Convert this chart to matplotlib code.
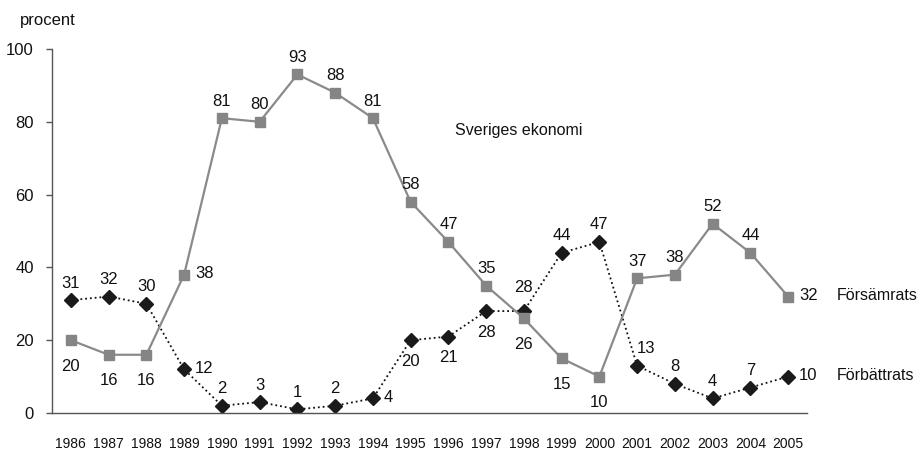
import matplotlib
matplotlib.use("Agg")
import matplotlib.pyplot as plt

plt.rcParams['font.family'] = ['Liberation Sans', 'DejaVu Sans']

years = list(range(1986, 2006))
forsamrats = [20, 16, 16, 38, 81, 80, 93, 88, 81, 58, 47, 35, 26, 15, 10, 37, 38, 52, 44, 32]
forbattrats = [31, 32, 30, 12, 2, 3, 1, 2, 4, 20, 21, 28, 28, 44, 47, 13, 8, 4, 7, 10]
# label placement: 'a' above, 'b' below, 'r' right, 'ar' above-right, 'A' high above
pos_fors = ['b', 'b', 'b', 'r', 'a', 'a', 'a', 'a', 'a', 'a', 'a', 'a', 'b', 'b', 'b', 'a', 'a', 'a', 'a', 'r']
pos_forb = ['a', 'a', 'a', 'r', 'a', 'a', 'a', 'a', 'r', 'b', 'b', 'b', 'A', 'a', 'a', 'ar', 'a', 'a', 'a', 'r']
yticks = [0, 20, 40, 60, 80, 100]

fig = plt.figure(figsize=(9.23, 4.5), dpi=100)
ax = fig.add_axes([52/923, 1-413/450, (807-52)/923, (413-49)/450])

ax.plot(years, forbattrats, color='#111111', linestyle=':', linewidth=1.3,
        marker='D', markersize=7.5, markerfacecolor='#1a1a1a', markeredgecolor='#1a1a1a', zorder=2)
ax.plot(years, forsamrats, color='#8a8a8a', linestyle='-', linewidth=1.6,
        marker='s', markersize=7, markerfacecolor='#858585', markeredgecolor='#858585', zorder=3)

def label(x, y, p, below_off):
    if p == 'a':
        off, ha = (0, 17), 'center'
    elif p == 'A':
        off, ha = (0, 24), 'center'
    elif p == 'b':
        off, ha = (0, -below_off), 'center'
    elif p == 'ar':
        off, ha = (0, 17), 'left'
    else:
        off, ha = (11, 1), 'left'
    ax.annotate(str(y), (x, y), xytext=off, textcoords='offset pixels',
                ha=ha, va='center', fontsize=12, color='#111111')

for x, y, p in zip(years, forsamrats, pos_fors):
    label(x, y, p, 26)
for x, y, p in zip(years, forbattrats, pos_forb):
    label(x, y, p, 21)

ax.set_xlim(1985.5, 2005.5)
ax.set_ylim(0, 100)
ax.set_yticks(yticks)
ax.set_xticks(years)
ax.set_xticklabels([str(y) for y in years], fontsize=10)
ax.tick_params(axis='x', length=0, pad=17, colors='#111111')
ax.tick_params(axis='y', length=4, width=1, pad=9, labelsize=12, colors='#111111', color='#555555')
for s in ['top', 'right']:
    ax.spines[s].set_visible(False)
for s in ['left', 'bottom']:
    ax.spines[s].set_color('#555555')
    ax.spines[s].set_linewidth(1.0)

ax.text(1997.85, 77.7, 'Sveriges ekonomi', ha='center', va='center', fontsize=11.5, color='#111111')
ax.annotate('Försämrats', (2005, 32), xytext=(49, 1), textcoords='offset pixels',
            ha='left', va='center', fontsize=11.5, color='#111111', annotation_clip=False)
ax.annotate('Förbättrats', (2005, 10), xytext=(49, 1), textcoords='offset pixels',
            ha='left', va='center', fontsize=11.5, color='#111111', annotation_clip=False)
fig.text(20/923, 1-20/450, 'procent', ha='left', va='center', fontsize=12, color='#111111')

fig.savefig('out.png', dpi=100)
